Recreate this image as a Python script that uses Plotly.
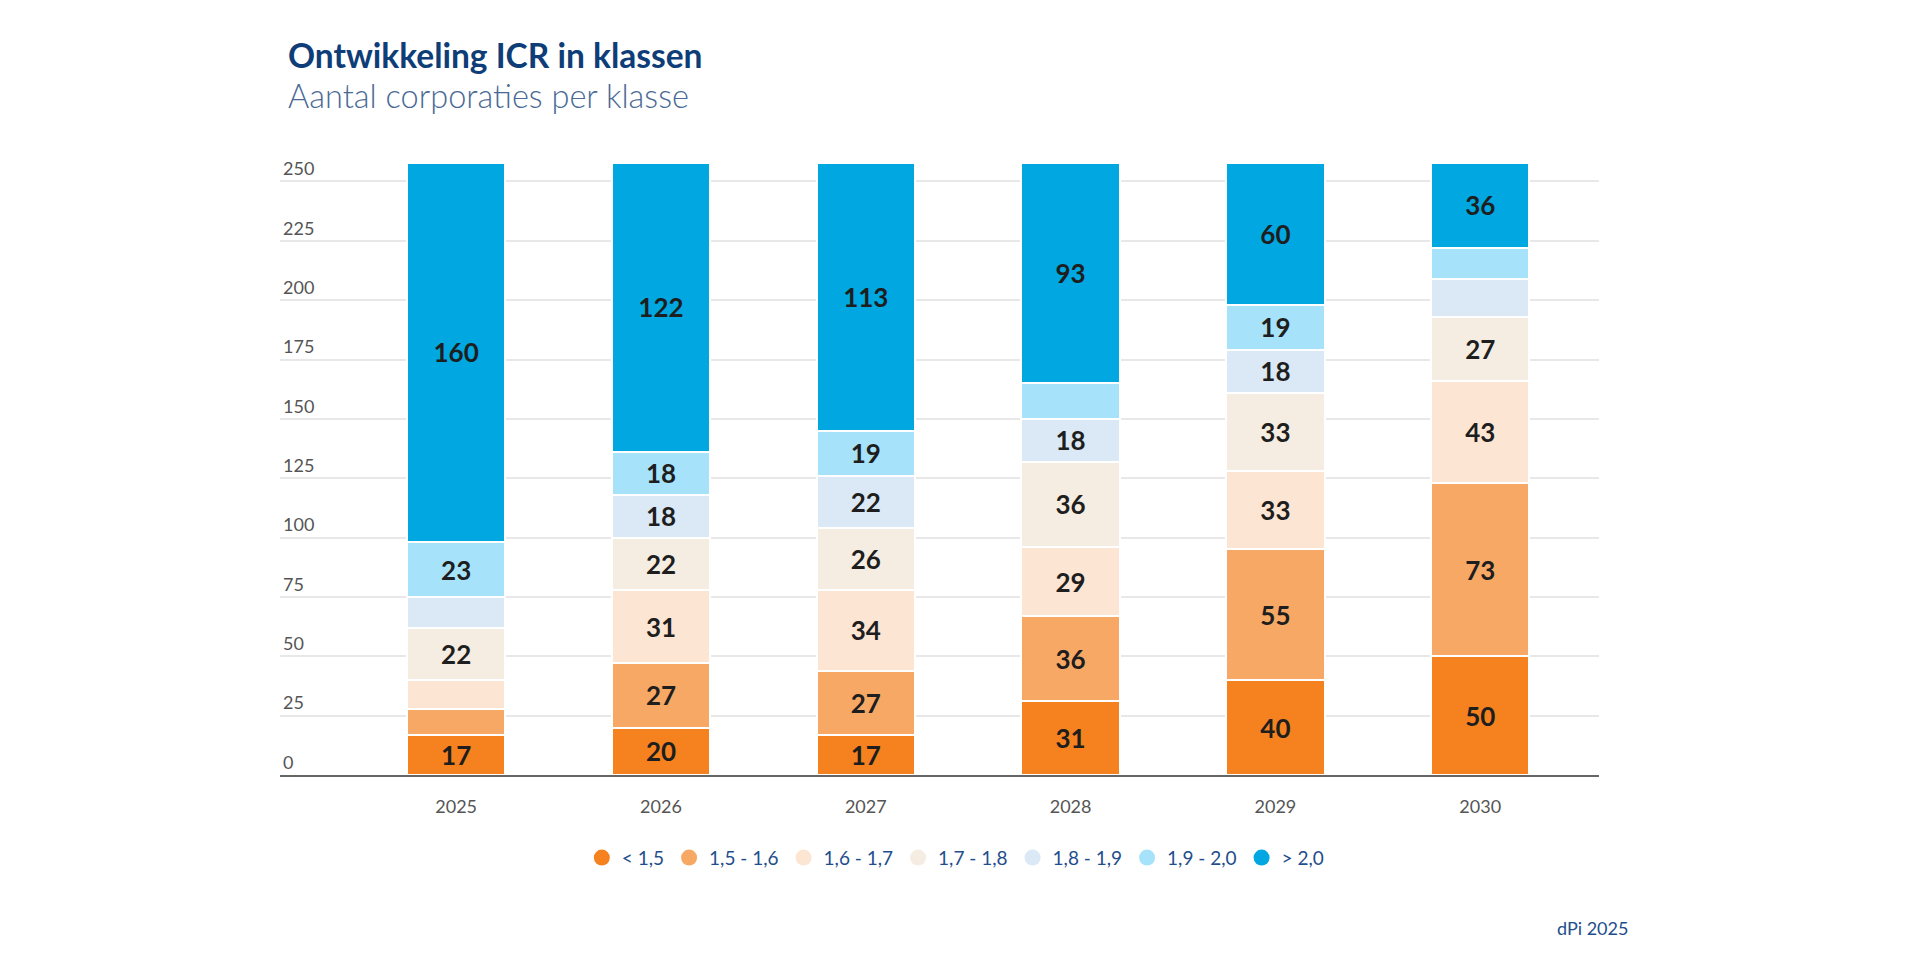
import plotly.graph_objects as go

# jaren en klassen
jaren = ["2025", "2026", "2027", "2028", "2029", "2030"]
klassen = ["&lt; 1,5", "1,5 - 1,6", "1,6 - 1,7", "1,7 - 1,8", "1,8 - 1,9", "1,9 - 2,0", "&gt; 2,0"]

# aantal corporaties per klasse, per jaar
k_lt_15 = [17, 20, 17, 31, 40, 50]
k_15_16 = [11, 27, 27, 36, 55, 73]
k_16_17 = [12, 31, 34, 29, 33, 43]
k_17_18 = [22, 22, 26, 36, 33, 27]
k_18_19 = [13, 18, 22, 18, 18, 16]
k_19_20 = [23, 18, 19, 15, 19, 13]
k_gt_20 = [160, 122, 113, 93, 60, 36]

reeksen = [k_lt_15, k_15_16, k_16_17, k_17_18, k_18_19, k_19_20, k_gt_20]
kleuren = ["#F5821F", "#F7A864", "#FDE5D3", "#F5EDE1", "#DAE9F5", "#A6E3FA", "#00A7E1"]
y_ticks = [0, 25, 50, 75, 100, 125, 150, 175, 200, 225, 250]

fig = go.Figure()

for naam, waarden, kleur in zip(klassen, reeksen, kleuren):
    # kleine segmenten krijgen geen label
    labels = [str(v) if v >= 17 else "" for v in waarden]
    fig.add_trace(go.Bar(
        x=jaren, y=waarden, name=naam,
        marker=dict(color=kleur, line=dict(color="white", width=2)),
        text=labels, textposition="inside", insidetextanchor="middle",
        textangle=0, constraintext="none",
        textfont=dict(family="Lato", size=26, color="#1E1E1E", weight="bold"),
        showlegend=False,
        hovertemplate="%{x}<br>" + naam + ": %{y}<extra></extra>",
    ))
    # legenda met ronde symbolen
    fig.add_trace(go.Scatter(
        x=[None], y=[None], mode="markers", name=naam,
        marker=dict(symbol="circle", size=18, color=kleur),
    ))

fig.update_layout(
    barmode="stack",
    bargap=0.52,
    width=1920, height=953,
    paper_bgcolor="white", plot_bgcolor="white",
    margin=dict(l=272, r=329, t=145, b=186),
    font=dict(family="Lato", color="#555555"),
    xaxis=dict(
        type="category", range=[-0.86, 5.58],
        showgrid=False, showline=True, linecolor="#666666", linewidth=2,
        ticks="", tickfont=dict(size=18, color="#555555"),
        ticklabelstandoff=14, fixedrange=True,
    ),
    yaxis=dict(
        range=[0, 262], tickvals=y_ticks,
        showgrid=True, gridcolor="#E8E8E8", gridwidth=1.5,
        zeroline=False, showline=False, ticks="",
        ticklabelposition="inside top",
        tickfont=dict(size=18, color="#555555"),
        fixedrange=True,
    ),
    legend=dict(
        orientation="h", x=0.512, xanchor="center", y=-0.133, yanchor="middle",
        font=dict(size=19, color="#1F4E8C"), itemwidth=30,
        traceorder="normal",
    ),
    annotations=[
        dict(xref="paper", yref="paper", x=0.0045, y=1.157, xanchor="left", yanchor="middle",
             text="<b>Ontwikkeling ICR in klassen</b>", showarrow=False,
             font=dict(family="Lato", size=33.5, color="#0E3D78")),
        dict(xref="paper", yref="paper", x=0.0045, y=1.0925, xanchor="left", yanchor="middle",
             text="Aantal corporaties per klasse", showarrow=False,
             font=dict(family="Lato", size=32.5, color="#4A6A95", weight=300)),
        dict(xref="paper", yref="paper", x=1.0235, y=-0.246, xanchor="right", yanchor="middle",
             text="dPi 2025", showarrow=False,
             font=dict(family="Lato", size=18, color="#1F4E8C")),
    ],
)

fig.write_html("out.html")
